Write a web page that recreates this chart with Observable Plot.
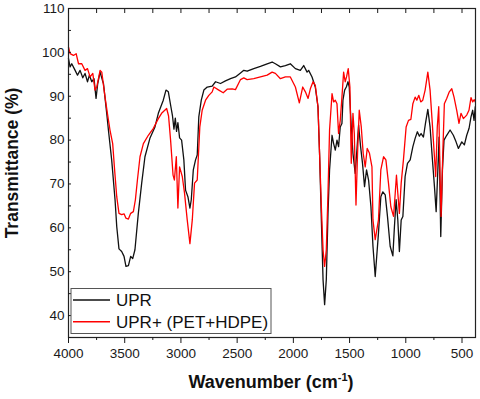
<!DOCTYPE html>
<html>
<head>
<meta charset="utf-8">
<script src="https://cdn.jsdelivr.net/npm/d3@7"></script>
<script src="https://cdn.jsdelivr.net/npm/@observablehq/plot@0.6"></script>
<style>
  html, body { margin: 0; padding: 0; background: #fff; }
  svg { font-family: "Liberation Sans", Arial, sans-serif; }
</style>
</head>
<body>
<div id="chart"></div>
<script>
// Wavenumber (cm-1) and transmittance (%)
const uprWavenumber = [4000,3986,3971,3941,3920,3897,3873,3853,3831,3814,3793,3773,3755,3740,3719,3698,3689,3660,3645,3616,3586,3571,3551,3527,3506,3489,3467,3447,3429,3409,3379,3349,3320,3276,3231,3201,3157,3133,3112,3092,3075,3062,3050,3039,3027,3012,2994,2974,2959,2938,2920,2908,2890,2870,2855,2841,2819,2796,2766,2722,2692,2648,2604,2559,2515,2470,2441,2411,2352,2293,2233,2189,2160,2115,2071,2027,1982,1938,1908,1878,1864,1834,1805,1781,1767,1751,1736,1722,1707,1692,1678,1656,1642,1627,1612,1598,1583,1568,1559,1544,1529,1514,1503,1485,1470,1450,1435,1420,1402,1385,1367,1349,1331,1310,1292,1272,1243,1222,1204,1183,1163,1139,1115,1101,1086,1071,1057,1041,1026,1006,985,961,937,917,897,879,864,843,825,804,784,763,745,730,715,704,689,674,660,636,606,577,553,532,502,479,458,437,420,405,393,382];
const uprTransmittance = [98.6,96.7,97.4,95.9,94.8,95.9,94.2,95.2,93.3,94.8,93.3,94.0,89.5,92.9,95.5,93.6,92.9,86.1,82.3,75.5,66.4,60.3,55.2,54.6,53.5,51.2,51.4,53.5,53.0,55.0,63.3,70.2,76.2,80.4,83.0,86.1,89.1,91.4,91.0,88.0,85.5,82.5,85.0,82.0,84.0,80.5,80.0,75.5,68.6,67.1,64.5,66.4,73.2,75.5,76.6,85.3,89.1,91.4,92.1,92.3,93.3,92.9,93.5,94.0,94.4,95.3,95.9,95.7,96.3,96.8,97.4,97.8,97.4,96.7,97.0,97.4,96.3,95.9,97.0,95.5,95.9,94.4,92.1,87.6,77.0,61.8,48.2,42.5,48.2,63.3,73.2,81.1,79.2,77.7,80.0,78.5,83.0,83.8,89.1,91.4,92.1,93.3,92.1,83.0,77.0,72.4,77.7,83.4,78.5,74.7,69.4,73.2,70.9,64.8,55.8,48.9,58.8,67.1,68.2,67.5,62.6,55.8,53.6,60.3,66.4,61.8,54.6,61.8,62.6,71.7,74.7,75.5,78.5,80.4,81.9,80.9,81.5,80.7,83.8,87.0,83.0,75.5,69.4,63.7,73.2,80.7,58.0,73.2,80.0,81.1,82.3,81.1,79.6,78.1,79.6,78.9,81.1,82.7,85.3,86.8,84.5,87.6];

const blendWavenumber = [4000,3986,3956,3932,3911,3882,3853,3831,3808,3784,3764,3749,3719,3704,3675,3654,3631,3607,3592,3571,3551,3527,3506,3489,3467,3447,3423,3405,3387,3364,3334,3290,3245,3201,3172,3127,3110,3092,3070,3058,3041,3027,3012,2988,2968,2944,2920,2899,2879,2855,2832,2811,2781,2752,2722,2707,2663,2624,2589,2544,2515,2470,2441,2411,2352,2293,2233,2189,2160,2115,2071,2027,1982,1947,1917,1893,1869,1849,1825,1805,1781,1767,1751,1736,1722,1707,1692,1678,1656,1642,1627,1612,1598,1583,1568,1553,1539,1527,1512,1497,1485,1470,1458,1443,1429,1414,1396,1379,1361,1343,1323,1301,1292,1272,1243,1222,1198,1177,1154,1133,1109,1094,1083,1071,1057,1041,1021,997,976,955,937,917,902,884,867,849,828,804,784,766,749,734,720,707,695,686,671,657,636,613,591,571,547,527,509,488,458,438,420,405,391,382];
const blendTransmittance = [101.2,99.7,99.3,99.7,97.4,97.4,95.9,96.3,94.4,95.2,91.4,92.1,95.9,95.5,89.8,86.1,82.3,79.2,73.9,67.1,63.3,63.0,63.2,62.2,62.0,63.3,63.7,66.4,70.9,76.2,79.2,81.1,82.7,84.9,86.1,87.2,85.5,80.0,72.0,70.9,76.2,64.5,73.9,71.7,67.9,61.8,56.4,61.8,70.2,70.9,83.0,86.8,89.1,90.2,91.0,92.1,91.4,90.8,91.6,91.7,91.5,93.8,94.2,93.8,94.0,94.4,94.8,95.5,95.2,94.0,94.4,94.4,92.1,88.5,92.1,91.0,89.5,91.7,93.3,92.5,87.6,77.0,64.8,55.0,51.2,55.0,67.9,82.3,90.6,88.7,89.1,88.3,81.5,84.5,89.8,95.5,93.3,94.4,96.3,92.1,74.7,86.1,81.5,65.2,77.0,86.8,83.0,77.0,73.9,78.1,77.0,73.9,61.8,57.3,61.8,73.2,76.2,75.5,70.2,64.8,62.6,67.9,72.0,67.9,63.3,70.2,75.5,83.0,84.5,84.7,88.3,89.8,89.1,90.2,88.7,89.1,91.4,95.5,91.4,84.5,77.7,71.7,83.0,87.6,71.7,62.6,77.0,88.3,89.5,91.0,91.7,89.8,86.8,83.8,86.1,84.9,85.7,86.8,89.7,88.7,89.2,88.7];

const seriesNames = ["UPR", "UPR+ (PET+HDPE)"];
const seriesColors = ["#111111", "#ff0000"];

const xMajorTicks = [4000, 3500, 3000, 2500, 2000, 1500, 1000, 500];
const xMinorTicks = [3750, 3250, 2750, 2250, 1750, 1250, 750];
const xAllTicks = [4000,3750,3500,3250,3000,2750,2500,2250,2000,1750,1500,1250,1000,750,500];
const yMajorTicks = [40, 50, 60, 70, 80, 90, 100, 110];
const yAllTicks = [35,40,45,50,55,60,65,70,75,80,85,90,95,100,105,110];

const data = [
  ...uprWavenumber.map((w, i) => ({wn: w, t: uprTransmittance[i], s: seriesNames[0]})),
  ...blendWavenumber.map((w, i) => ({wn: w, t: blendTransmittance[i], s: seriesNames[1]}))
];

const fs = 13.5;
const plain = d3.format("d");
const plot = Plot.plot({
  width: 480,
  height: 399,
  marginLeft: 68,
  marginRight: 5,
  marginTop: 8,
  marginBottom: 62,
  style: {fontFamily: '"Liberation Sans", Arial, sans-serif', color: "#1a1a1a", background: "#fff"},
  x: {domain: [4000, 380]},
  y: {domain: [35, 110]},
  color: {domain: seriesNames, range: seriesColors},
  marks: [
    Plot.line(data, {x: "wn", y: "t", z: "s", stroke: "s", strokeWidth: 1.3}),
    Plot.frame({stroke: "#222", strokeWidth: 1.2}),
    Plot.axisX({anchor: "bottom", ticks: xMajorTicks, tickSize: 0, tickPadding: 11, fontSize: fs, tickFormat: plain, label: null}),
    Plot.axisX({anchor: "bottom", ticks: xMajorTicks, tickSize: 6, tickFormat: () => "", label: null}),
    Plot.axisX({anchor: "bottom", ticks: xMinorTicks, tickSize: 3, tickFormat: () => "", label: null}),
    Plot.axisX({anchor: "top", ticks: xAllTicks, tickSize: 4, dy: 4, tickFormat: () => "", label: null}),
    Plot.axisY({anchor: "left", ticks: yMajorTicks, tickSize: 0, tickPadding: 4, fontSize: fs, tickFormat: plain, label: null}),
    Plot.axisY({anchor: "left", ticks: yAllTicks, tickSize: 3, dx: 3, tickFormat: () => "", label: null})
  ]
});

document.getElementById("chart").appendChild(plot);
const svg = d3.select(plot);

// axis titles
svg.append("text")
  .attr("transform", "translate(17.5,163) rotate(-90)")
  .attr("text-anchor", "middle")
  .attr("font-size", 17.5)
  .attr("font-weight", "bold")
  .attr("fill", "#111")
  .text("Transmittance (%)");

const xl = svg.append("text")
  .attr("x", 271)
  .attr("y", 388)
  .attr("text-anchor", "middle")
  .attr("font-size", 18)
  .attr("font-weight", "bold")
  .attr("fill", "#111");
xl.append("tspan").text("Wavenumber (cm");
xl.append("tspan").attr("font-size", 11).attr("dy", -7).text("-1");
xl.append("tspan").attr("dy", 7).text(")");

// legend
const lg = svg.append("g").attr("text-anchor", "start");
lg.append("rect").attr("x", 71).attr("y", 288.5).attr("width", 200).attr("height", 45)
  .attr("fill", "#fff").attr("stroke", "#555").attr("stroke-width", 1);
seriesNames.forEach((name, i) => {
  const cy = 300 + i * 21.7;
  lg.append("line").attr("x1", 73).attr("x2", 110).attr("y1", cy).attr("y2", cy)
    .attr("stroke", seriesColors[i]).attr("stroke-width", 1.6);
  lg.append("text").attr("x", 116).attr("y", cy + 6).attr("font-size", 17)
    .attr("text-anchor", "start").attr("fill", "#111").text(name);
});
</script>
</body>
</html>
